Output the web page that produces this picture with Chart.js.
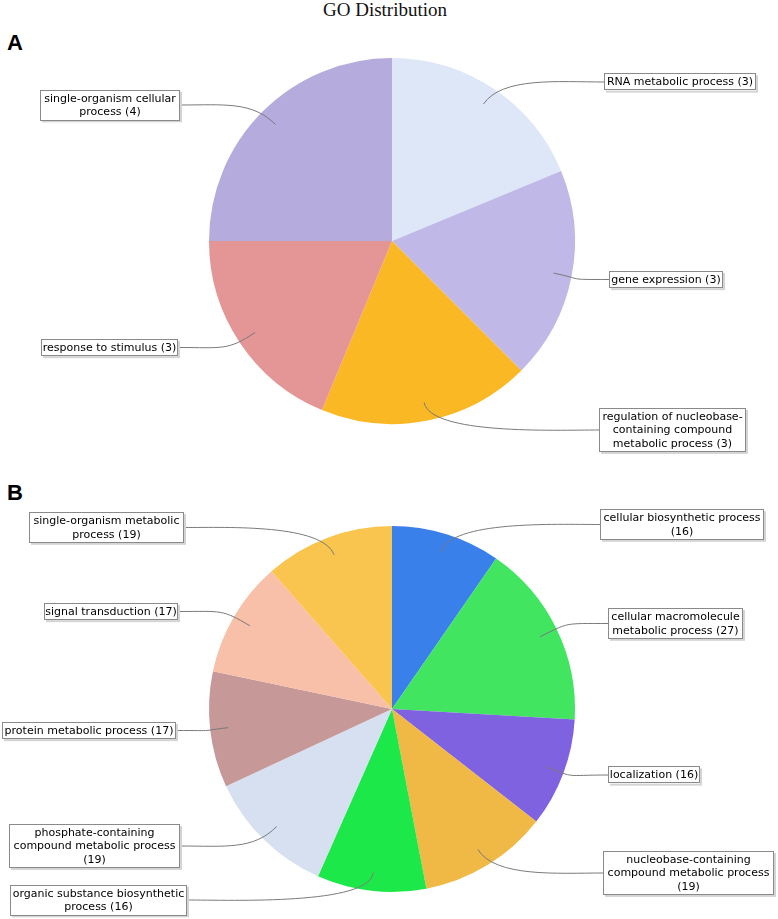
<!DOCTYPE html>
<html>
<head>
<meta charset="utf-8">
<title>GO Distribution</title>
<script src="https://cdn.jsdelivr.net/npm/chart.js@4.4.1/dist/chart.umd.min.js"></script>
<style>
  body { margin: 0; background: #fff; width: 778px; height: 919px; position: relative; overflow: hidden; }
  .title { position: absolute; top: 0; left: 0; width: 770px; text-align: center;
           font-family: "Liberation Serif", "Times New Roman", serif; font-size: 19px; line-height: 20px; color: #111; }
  .panel { position: absolute; left: 7px; font-family: "Liberation Sans", Arial, sans-serif;
           font-weight: bold; font-size: 22px; line-height: 22px; color: #000; }
  canvas { position: absolute; left: 0; top: 0; }
</style>
</head>
<body>
<div class="title">GO Distribution</div>
<div class="panel" style="top:32px">A</div>
<div class="panel" style="top:482px">B</div>
<canvas id="chartA" width="778" height="919"></canvas>
<canvas id="chartB" width="778" height="919"></canvas>
<script>
// panel A
const catsA = [
  'RNA metabolic process',
  'gene expression',
  'regulation of nucleobase-containing compound metabolic process',
  'response to stimulus',
  'single-organism cellular process'
];
const valuesA = [3, 3, 3, 3, 4];
const colorsA = ['#dde7f7', '#c0b8e6', '#f9b824', '#e49595', '#b5abdc'];

// panel B
const catsB = [
  'cellular biosynthetic process',
  'cellular macromolecule metabolic process',
  'localization',
  'nucleobase-containing compound metabolic process',
  'organic substance biosynthetic process',
  'phosphate-containing compound metabolic process',
  'protein metabolic process',
  'signal transduction',
  'single-organism metabolic process'
];
const valuesB = [16, 27, 16, 19, 16, 19, 17, 17, 19];
const colorsB = ['#3a80ea', '#42e560', '#7f62df', '#f0b845', '#1de84a', '#d6e0f0', '#c69898', '#f8c0a9', '#fac54e'];

// label boxes: left x, centre y, width, side of the pie
const boxesA = [
  { x: 604, y: 82, w: 152, side: 'right' },
  { x: 609, y: 279.5, w: 114, side: 'right' },
  { x: 599, y: 430, w: 147, side: 'right' },
  { x: 41, y: 347.5, w: 137, side: 'left' },
  { x: 40, y: 105, w: 140, side: 'left' }
];
const boxesB = [
  { x: 600, y: 524.5, w: 164, side: 'right' },
  { x: 608, y: 623.5, w: 135, side: 'right' },
  { x: 608, y: 775, w: 92, side: 'right' },
  { x: 603, y: 873, w: 171, side: 'right' },
  { x: 10, y: 900, w: 177, side: 'left' },
  { x: 9, y: 846, w: 171, side: 'left' },
  { x: 2, y: 730.5, w: 174, side: 'left' },
  { x: 44, y: 611.5, w: 134, side: 'left' },
  { x: 29, y: 527.5, w: 155, side: 'left' }
];

// greedy wrap, allowed to break at spaces and after hyphens
const wrap = (ctx, text, maxW) => {
  const tokens = [];
  text.split(' ').forEach((word, wi) => {
    const parts = word.split(/(?<=-)/);
    parts.forEach((part, pi) => {
      tokens.push({ t: part, sep: (pi === 0 && wi > 0) ? ' ' : '' });
    });
  });
  const lines = [];
  let cur = '';
  tokens.forEach((tok) => {
    const test = cur + tok.sep + tok.t;
    if (cur && ctx.measureText(test).width > maxW) {
      lines.push(cur);
      cur = tok.t;
    } else {
      cur = test;
    }
  });
  if (cur) lines.push(cur);
  return lines;
};

const calloutPlugin = {
  id: 'callouts',
  afterDatasetsDraw(chart, args, opts) {
    const ctx = chart.ctx;
    const meta = chart.getDatasetMeta(0);
    const labels = chart.data.labels;
    const values = chart.data.datasets[0].data;
    const lineH = 13.3;
    ctx.save();
    ctx.font = '11px "DejaVu Sans", sans-serif';
    meta.data.forEach((arc, i) => {
      const box = opts.boxes[i];
      const p = arc.getProps(['x', 'y', 'startAngle', 'endAngle', 'outerRadius'], true);
      const mid = (p.startAngle + p.endAngle) / 2;
      const r = p.outerRadius;
      const lx = p.x + Math.cos(mid) * r * 0.9;
      const ly = p.y + Math.sin(mid) * r * 0.9;
      const ex = p.x + Math.cos(mid) * r * 1.08;
      const ey = p.y + Math.sin(mid) * r * 1.08;

      const lines = wrap(ctx, `${labels[i]} (${values[i]})`, box.w);
      const h = lines.length * lineH + 4;
      const top = box.y - h / 2;
      const tx = box.side === 'left' ? box.x + box.w : box.x;
      const ax = tx + (box.side === 'left' ? 45 : -45);

      // leader line
      ctx.strokeStyle = '#7a7a7a';
      ctx.lineWidth = 1;
      ctx.beginPath();
      ctx.moveTo(tx, box.y);
      ctx.bezierCurveTo(ax, box.y, ex, ey, lx, ly);
      ctx.stroke();

      // box with shadow
      ctx.fillStyle = '#d4d4d4';
      ctx.fillRect(box.x + 2, top + 2, box.w, h);
      ctx.fillStyle = '#ffffff';
      ctx.fillRect(box.x, top, box.w, h);
      ctx.strokeStyle = '#8a8a8a';
      ctx.strokeRect(Math.round(box.x) + 0.5, Math.round(top) + 0.5, box.w - 1, Math.round(h) - 1);

      ctx.fillStyle = '#000';
      ctx.textAlign = 'center';
      ctx.textBaseline = 'middle';
      lines.forEach((ln, k) => {
        ctx.fillText(ln, box.x + box.w / 2, top + 2 + lineH * (k + 0.5) + 0.5);
      });
    });
    ctx.restore();
  }
};

const makePie = (id, cats, values, colors, boxes, padding) => {
  new Chart(document.getElementById(id), {
    type: 'pie',
    data: {
      labels: cats,
      datasets: [{
        data: values,
        backgroundColor: colors,
        borderWidth: 0
      }]
    },
    options: {
      responsive: false,
      animation: false,
      devicePixelRatio: 1,
      layout: { padding: padding },
      plugins: {
        legend: { display: false },
        tooltip: { enabled: false },
        callouts: { boxes: boxes }
      }
    },
    plugins: [calloutPlugin]
  });
};

makePie('chartA', catsA, valuesA, colorsA, boxesA, { left: 209, right: 203, top: 58, bottom: 495 });
makePie('chartB', catsB, valuesB, colorsB, boxesB, { left: 209, right: 203, top: 526, bottom: 27 });
</script>
</body>
</html>
